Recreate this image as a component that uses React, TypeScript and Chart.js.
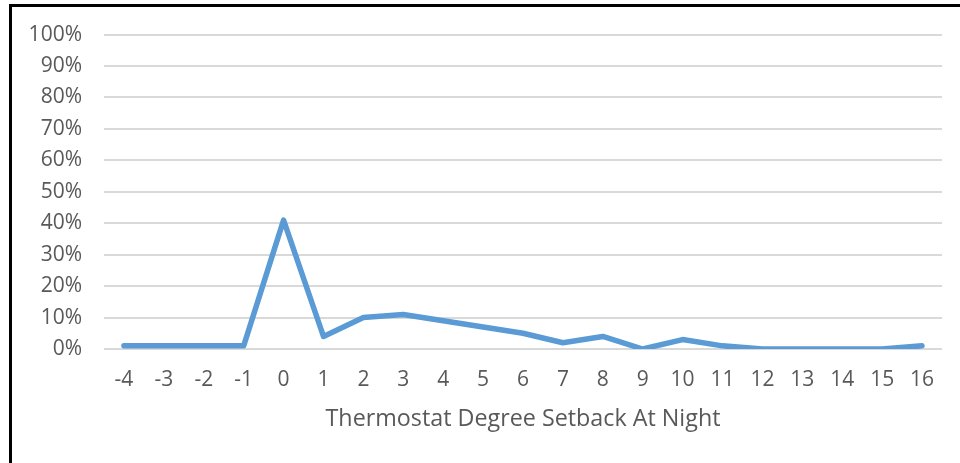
import React, { useEffect, useRef } from "react";
import { Chart, registerables } from "chart.js";

Chart.register(...registerables);

const categories = ["-4", "-3", "-2", "-1", "0", "1", "2", "3", "4", "5", "6", "7", "8", "9", "10", "11", "12", "13", "14", "15", "16"];
const shares = [0.01, 0.01, 0.01, 0.01, 0.41, 0.04, 0.10, 0.11, 0.09, 0.07, 0.05, 0.02, 0.04, 0.0, 0.03, 0.01, 0.0, 0.0, 0.0, 0.0, 0.01];
const xTitle = "Thermostat Degree Setback At Night";

const FONT = "'Open Sans', 'Noto Sans', sans-serif";
const TEXT = "#595959";

export default function App() {
  const ref = useRef<HTMLCanvasElement | null>(null);

  useEffect(() => {
    if (!ref.current) return;
    const chart = new Chart(ref.current, {
      type: "line",
      data: {
        labels: categories,
        datasets: [
          {
            data: shares,
            borderColor: "#5b9bd5",
            backgroundColor: "#5b9bd5",
            borderWidth: 5.5,
            pointRadius: 0,
            tension: 0,
            borderJoinStyle: "round",
            borderCapStyle: "round",
          },
        ],
      },
      options: {
        animation: false,
        responsive: true,
        maintainAspectRatio: false,
        layout: { padding: { top: 34, right: 18, left: 0, bottom: 0 } },
        plugins: { legend: { display: false }, tooltip: { enabled: false } },
        scales: {
          x: {
            type: "category",
            offset: true,
            grid: { display: false, drawTicks: false },
            border: { display: false },
            ticks: { color: TEXT, font: { family: FONT, size: 21 }, padding: 18, maxRotation: 0, autoSkip: false },
            title: {
              display: true,
              text: xTitle,
              color: TEXT,
              font: { family: FONT, size: 23.3 },
              padding: { top: 0, bottom: 30 },
            },
            afterFit: (scale: any) => {
              scale.height = 114;
            },
          },
          y: {
            min: 0,
            max: 1,
            grid: { color: "#d9d9d9", lineWidth: 2, drawTicks: false },
            border: { display: false },
            ticks: {
              stepSize: 0.1,
              color: TEXT,
              font: { family: FONT, size: 21 },
              padding: 22,
              callback: (v: any) => Math.round(Number(v) * 100) + "%",
            },
            afterFit: (scale: any) => {
              scale.width = 104;
            },
          },
        },
      },
    });
    return () => chart.destroy();
  }, []);

  return (
    <div style={{ position: "absolute", left: 0, top: 0, width: 960, height: 463, background: "#fff" }}>
      <canvas ref={ref} />
      <div
        style={{
          position: "absolute",
          left: 9,
          top: 4,
          width: 951,
          height: 459,
          borderLeft: "3px solid #000",
          borderTop: "3px solid #000",
          boxSizing: "border-box",
          pointerEvents: "none",
        }}
      />
    </div>
  );
}
